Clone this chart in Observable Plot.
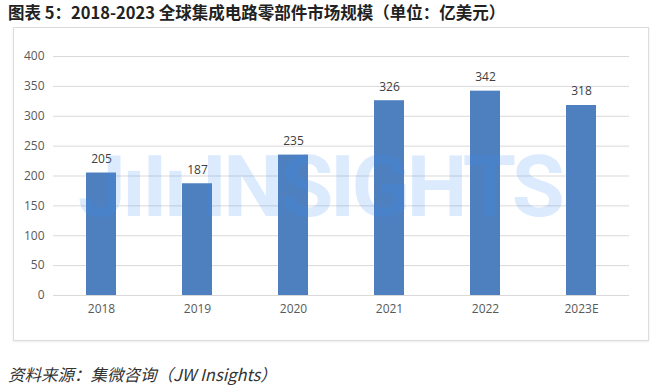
<!DOCTYPE html>
<html><head><meta charset="utf-8">
<script src="https://cdn.jsdelivr.net/npm/d3@7"></script>
<script src="https://cdn.jsdelivr.net/npm/@observablehq/plot@0.6"></script>
<style>
body{margin:0;background:#fff;width:660px;height:385px;position:relative;overflow:hidden;font-family:"Noto Sans CJK SC",sans-serif}
#title{position:absolute;left:8px;top:0;font-size:16.5px;font-weight:bold;line-height:24px;color:#222;white-space:nowrap}
#box{position:absolute;left:13px;top:27px;width:634px;height:312px;border:1px solid #dcdcdc;box-shadow:0 1px 2px rgba(0,0,0,0.08)}
#chart{position:absolute;left:0;top:27px}
#caption{position:absolute;left:8px;top:362px;font-size:16.5px;font-style:italic;line-height:24px;color:#333;white-space:nowrap}
</style></head>
<body>
<div id="title">图表 5：2018-2023 全球集成电路零部件市场规模（单位：亿美元）</div>
<div id="box"></div>
<div id="chart"></div>
<div id="caption">资料来源：集微咨询（JW Insights）</div>
<script>
const years = ["2018", "2019", "2020", "2021", "2022", "2023E"];
const values = [205, 187, 235, 326, 342, 318];
const yTicks = [0, 50, 100, 150, 200, 250, 300, 350, 400];
const watermark = ["JıIı INSIGHTS"];

const data = years.map((y, i) => ({year: y, value: values[i]}));
const plot = Plot.plot({
  width: 660, height: 313,
  marginTop: 29, marginBottom: 45, marginLeft: 53, marginRight: 31,
  style: {fontFamily: "'Open Sans', 'Noto Sans', sans-serif", fontSize: "12px", color: "#595959", background: "transparent"},
  x: {domain: years, paddingInner: 0.69, paddingOuter: 0.345, label: null},
  y: {domain: [0, 400], label: null},
  marks: [
    Plot.gridY(yTicks, {stroke: "#d9d9d9", strokeOpacity: 1}),
    Plot.axisY(yTicks, {tickSize: 0, tickPadding: 9, label: null, fill: "#595959"}),
    Plot.axisX({tickSize: 0, tickPadding: 9, label: null, fill: "#595959"}),
    Plot.barY(data, {x: "year", y: "value", fill: "#4e80bf"}),
    Plot.text(data, {x: "year", y: "value", text: d => String(d.value), dy: -14, fill: "#404040"}),
    Plot.text(watermark, {frameAnchor: "middle", text: d => d, dx: -22, dy: 12,
      fontSize: 86, fontWeight: "bold", fontFamily: "Roboto, sans-serif",
      fill: "#3d8af7", fillOpacity: 0.18, className: "wm"})
  ]
});
d3.select(plot).selectAll(".wm text").style("letter-spacing", "-3.5px");
document.getElementById("chart").appendChild(plot);
</script>
</body></html>
